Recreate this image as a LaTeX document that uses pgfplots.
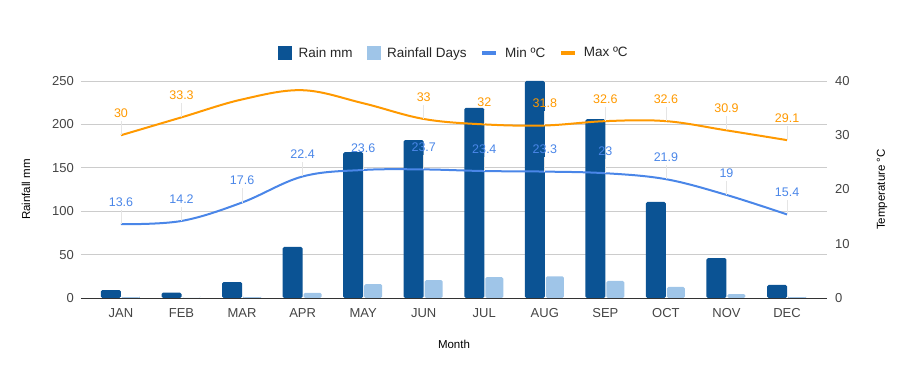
\documentclass[border=0pt]{standalone}
\usepackage{pgfplots}
\pgfplotsset{compat=1.18}
\usepackage{fontspec}
\setmainfont{Liberation Sans}
\definecolor{rain}{HTML}{0B5394}
\definecolor{days}{HTML}{9FC5E8}
\definecolor{minc}{HTML}{4A86E8}
\definecolor{maxc}{HTML}{FF9900}
\definecolor{gridc}{HTML}{CCCCCC}
\definecolor{txt}{HTML}{444444}
\newcommand{\fs}{\fontsize{13}{15}\selectfont}
\newcommand{\fl}{\fontsize{11.5}{13}\selectfont}
\newcommand{\fd}{\fontsize{12.5}{14}\selectfont}
\newcommand{\fg}{\fontsize{13.5}{15}\selectfont}
\pgfplotsset{
  base/.style={
    at={(81pt,73pt)}, anchor=south west, scale only axis,
    width=746pt, height=217pt,
    xmin=-0.66, xmax=11.66,
    /pgf/number format/assume math mode=true,
    tick label style={font=\fs, text=txt},
    label style={font=\fl, text=black},
    major tick length=0pt,
  }
}
\begin{document}
\begin{tikzpicture}
\useasboundingbox (0,0) rectangle (908pt,371pt);
\begin{axis}[base,
  ymin=0, ymax=250, ytick={0,50,...,250},
  xtick={0,...,11},
  xticklabels={JAN,FEB,MAR,APR,MAY,JUN,JUL,AUG,SEP,OCT,NOV,DEC},
  axis x line*=bottom, axis y line*=left,
  x axis line style={draw=black!80, line width=0.8pt, -},
  y axis line style={draw=none},
  ymajorgrids, grid style={draw=gridc, line width=0.6pt},
  xticklabel style={anchor=center, yshift=-15pt, inner sep=0pt},
  yticklabel style={anchor=east, inner sep=0pt, xshift=-7pt},
  xlabel={Month},
  xlabel style={at={(axis description cs:0.5,-0.212)}, anchor=center},
  ylabel={Rainfall mm},
  ylabel style={at={(axis description cs:-0.0737,0.5)}, anchor=center, rotate=0},
  legend columns=4,
  legend style={at={(axis description cs:0.5,1.129)}, anchor=center, draw=none, fill=none,
    font=\fg, text=black!85,
    /tikz/every odd column/.append style={column sep=5pt},
    /tikz/every even column/.append style={column sep=12pt}},
]
\addlegendimage{legend image code/.code={\fill[rain] (0pt,-6.5pt) rectangle (13pt,6.5pt);}}
\addlegendentry{Rain mm}
\addlegendimage{legend image code/.code={\fill[days] (0pt,-6.5pt) rectangle (13pt,6.5pt);}}
\addlegendentry{Rainfall Days}
\addlegendimage{legend image code/.code={\draw[minc, line width=3.5pt] (0pt,0pt) -- (14pt,0pt);}}
\addlegendentry{Min ºC}
\addlegendimage{legend image code/.code={\draw[maxc, line width=3.5pt] (0pt,0pt) -- (14pt,0pt);}}
\addlegendentry{Max ºC}
\addplot[ybar, bar width=20pt, bar shift=-10pt, fill=rain, draw=none, rounded corners=1.5pt, forget plot]
  coordinates {(0,9.2) (1,6.1) (2,18.4) (3,58.8) (4,168) (5,182) (6,219) (7,250) (8,206) (9,110.6) (10,46) (11,15)};
\addplot[ybar, bar width=18pt, bar shift=10pt, fill=days, draw=none, rounded corners=1.5pt, forget plot]
  coordinates {(0,1) (1,0) (2,1) (3,6) (4,16) (5,20.7) (6,24) (7,25) (8,19.6) (9,12.7) (10,4.6) (11,1)};
\end{axis}
\begin{axis}[base,
  ymin=0, ymax=40, ytick={0,10,...,40},
  axis x line=none, axis y line*=right,
  y axis line style={draw=none},
  yticklabel style={anchor=west, inner sep=0pt, xshift=8pt},
  ylabel={Temperature °C},
  ylabel style={at={(axis description cs:1.0737,0.5)}, anchor=center, rotate=0},
  lbl/.style={only marks, mark=none,
    nodes near coords,
    point meta=y,
    every node near coord/.append style={font=\fd, anchor=center, yshift=22pt, inner sep=0pt,
      /pgf/number format/assume math mode=true},
    error bars/.cd, y dir=plus, y fixed=2.6, error mark=none,
    error bar style={draw=black!10, line width=0.8pt}},
]
\addplot[minc, line width=2pt, smooth, tension=0.6, mark=none]
  coordinates {(0,13.6) (1,14.2) (2,17.6) (3,22.4) (4,23.6) (5,23.7) (6,23.4) (7,23.3) (8,23) (9,21.9) (10,19) (11,15.4)};
\addplot[maxc, line width=2pt, smooth, tension=0.6, mark=none]
  coordinates {(0,30) (1,33.3) (2,36.6) (3,38.3) (4,35.9) (5,33) (6,32) (7,31.8) (8,32.6) (9,32.6) (10,30.9) (11,29.1)};
\addplot[minc, lbl]
  coordinates {(0,13.6) (1,14.2) (2,17.6) (3,22.4) (4,23.6) (5,23.7) (6,23.4) (7,23.3) (8,23) (9,21.9) (10,19) (11,15.4)};
\addplot[maxc, lbl]
  coordinates {(0,30) (1,33.3) (5,33) (6,32) (7,31.8) (8,32.6) (9,32.6) (10,30.9) (11,29.1)};
\end{axis}
\end{tikzpicture}
\end{document}
